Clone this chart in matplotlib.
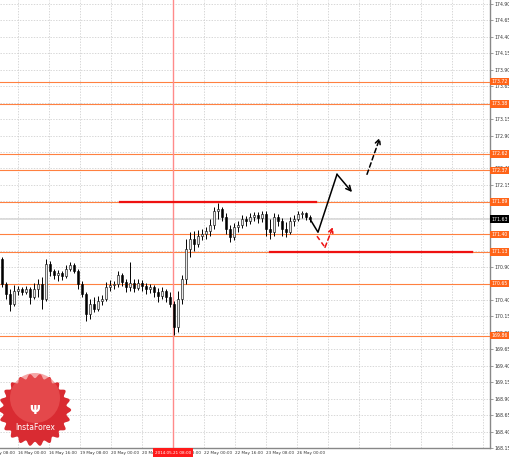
import matplotlib
matplotlib.use("Agg")
import matplotlib.pyplot as plt
import matplotlib.transforms as mtransforms
from matplotlib.patches import Polygon, Circle
import numpy as np

# GBP/JPY-like H1 bars
opens = [171.02, 170.64, 170.49, 170.34, 170.54, 170.57, 170.52, 170.57, 170.45, 170.57,
         170.64, 170.42, 170.95, 170.84, 170.78, 170.81, 170.77, 170.87, 170.93, 170.84,
         170.64, 170.49, 170.19, 170.34, 170.26, 170.39, 170.42, 170.60, 170.63, 170.64,
         170.78, 170.68, 170.60, 170.66, 170.58, 170.66, 170.61, 170.57, 170.60, 170.52,
         170.46, 170.54, 170.45, 170.34, 169.99, 170.42, 170.72, 171.17, 171.32, 171.25,
         171.38, 171.40, 171.45, 171.54, 171.75, 171.78, 171.66, 171.48, 171.35, 171.51,
         171.54, 171.63, 171.60, 171.66, 171.69, 171.64, 171.70, 171.48, 171.43, 171.66,
         171.60, 171.48, 171.43, 171.60, 171.63, 171.70, 171.72, 171.66]
highs = [171.05, 170.68, 170.57, 170.63, 170.61, 170.60, 170.61, 170.60, 170.66, 170.72,
         170.75, 171.02, 170.99, 170.87, 170.86, 170.84, 170.93, 170.98, 170.96, 170.87,
         170.69, 170.52, 170.42, 170.45, 170.46, 170.48, 170.68, 170.71, 170.69, 170.84,
         170.81, 170.72, 170.98, 170.72, 170.72, 170.71, 170.66, 170.64, 170.63, 170.58,
         170.60, 170.57, 170.52, 170.39, 170.54, 170.78, 171.32, 171.43, 171.45, 171.46,
         171.48, 171.51, 171.63, 171.81, 171.88, 171.82, 171.72, 171.54, 171.57, 171.60,
         171.69, 171.67, 171.72, 171.73, 171.73, 171.76, 171.75, 171.63, 171.72, 171.70,
         171.64, 171.58, 171.66, 171.69, 171.75, 171.76, 171.73, 171.69]
lows = [170.60, 170.42, 170.23, 170.31, 170.48, 170.48, 170.49, 170.34, 170.42, 170.45,
        170.26, 170.39, 170.77, 170.72, 170.69, 170.71, 170.74, 170.84, 170.81, 170.57,
        170.45, 170.08, 170.11, 170.22, 170.23, 170.33, 170.39, 170.54, 170.57, 170.60,
        170.61, 170.52, 170.54, 170.52, 170.55, 170.54, 170.49, 170.51, 170.45, 170.37,
        170.42, 170.37, 170.30, 169.87, 169.92, 170.34, 170.64, 171.05, 171.14, 171.20,
        171.31, 171.32, 171.38, 171.48, 171.63, 171.60, 171.40, 171.28, 171.31, 171.43,
        171.49, 171.52, 171.55, 171.60, 171.57, 171.58, 171.38, 171.32, 171.38, 171.52,
        171.37, 171.35, 171.40, 171.52, 171.60, 171.64, 171.61, 171.58]
closes = [170.64, 170.49, 170.34, 170.54, 170.57, 170.52, 170.57, 170.45, 170.57, 170.64,
          170.42, 170.95, 170.84, 170.78, 170.81, 170.77, 170.87, 170.93, 170.84, 170.64,
          170.49, 170.19, 170.34, 170.26, 170.39, 170.42, 170.60, 170.63, 170.64, 170.78,
          170.68, 170.60, 170.66, 170.58, 170.66, 170.61, 170.57, 170.60, 170.52, 170.46,
          170.54, 170.45, 170.34, 169.99, 170.42, 170.72, 171.17, 171.32, 171.25, 171.38,
          171.40, 171.45, 171.54, 171.75, 171.78, 171.66, 171.48, 171.35, 171.51, 171.54,
          171.63, 171.60, 171.66, 171.69, 171.64, 171.70, 171.48, 171.43, 171.66, 171.60,
          171.48, 171.43, 171.60, 171.63, 171.70, 171.72, 171.66, 171.63]

# horizontal levels (orange) and the two red zone lines
levels = [173.72, 173.38, 172.62, 172.37, 171.89, 171.40, 171.13, 170.65, 169.86]
red_upper = (29.5, 78.5, 171.89)
red_lower = (67.0, 117.5, 171.13)

# forecast path drawn on the chart
path_x = [77, 79, 83.75, 87.5]
path_y = [171.63, 171.43, 172.31, 172.04]
dash_x = [91.25, 94.5]
dash_y = [172.31, 172.87]
alt_x = [78.75, 80.75, 82.75]
alt_y = [171.37, 171.20, 171.51]

# time axis
date_pos = [-3.75, 4.0, 11.75, 19.5, 27.25, 35.0, 42.75, 50.5, 58.25, 66.0, 73.75]
date_labels = ["15 May 08:00", "16 May 00:00", "16 May 16:00", "19 May 08:00",
               "20 May 00:00", "20 May 16:00", "21 May 08:00", "22 May 00:00",
               "22 May 16:00", "23 May 08:00", "26 May 00:00"]
grid_x = [4.0 + 7.75 * k for k in range(16)]
marker_x = 42.75
marker_label = "2014.05.21 08:00"

fs = 3.3
fs_date = 3.0

fig = plt.figure(figsize=(5.1, 4.57), dpi=100)
ax = fig.add_axes([0, 9 / 457, 490 / 510, 448 / 457])
ax.set_xlim(-0.5, 122)
ax.set_ylim(168.17, 174.96)

# grid
ax.set_xticks(grid_x)
ax.set_xticklabels([])
ax.tick_params(axis='x', length=0)
ax.set_yticks(np.arange(168.15, 174.91, 0.25))
ax.yaxis.tick_right()
ax.yaxis.set_major_formatter(matplotlib.ticker.FormatStrFormatter('%.2f'))
ax.tick_params(axis='y', labelsize=fs, length=2, width=0.5, color='#777777',
               pad=1.2, labelcolor='#333333')
ax.grid(True, color='#c8c8c8', lw=0.5, linestyle=(0, (2, 2)))
ax.set_axisbelow(True)
for s in ['top', 'left']:
    ax.spines[s].set_visible(False)
for s in ['right', 'bottom']:
    ax.spines[s].set_color('#888888')
    ax.spines[s].set_linewidth(1)

blend = mtransforms.blended_transform_factory(ax.transAxes, ax.transData)
blend_x = mtransforms.blended_transform_factory(ax.transData, ax.transAxes)

# levels
for lv in levels:
    ax.axhline(lv, color='#ff8040', lw=0.8, zorder=2)
    ax.text(1.003, lv, f'{lv:.2f}', transform=blend, fontsize=fs, color='white',
            va='center', ha='left', clip_on=False, zorder=8,
            bbox=dict(facecolor='#ff6418', edgecolor='none', pad=0.8))

# bid line
ax.axhline(closes[-1], color='#d8d8d8', lw=1.2, zorder=1.5)
ax.text(1.003, closes[-1], f'{closes[-1]:.2f}', transform=blend, fontsize=fs,
        color='white', va='center', ha='left', clip_on=False, zorder=8,
        bbox=dict(facecolor='black', edgecolor='none', pad=0.8))

# red vertical marker
ax.axvline(marker_x, color='#ff8a8a', lw=1, zorder=2)

# candles
x = np.arange(len(closes))
o = np.array(opens)
c = np.array(closes)
ax.vlines(x, lows, highs, color='black', lw=0.7, zorder=3)
up = c >= o
ax.bar(x[up], (c - o)[up], bottom=o[up], width=0.6, color='#e8e8e8',
       edgecolor='black', lw=0.4, zorder=4)
ax.bar(x[~up], (o - c)[~up], bottom=c[~up], width=0.6, color='black',
       edgecolor='black', lw=0.4, zorder=4)

# red zone lines
ax.plot(red_upper[:2], [red_upper[2]] * 2, color='#ee1111', lw=1.6, zorder=5)
ax.plot(red_lower[:2], [red_lower[2]] * 2, color='#ee1111', lw=1.6, zorder=5)

# forecast arrows
ax.plot(path_x[:-1], path_y[:-1], color='black', lw=1.1, zorder=6)
ax.annotate('', xy=(path_x[-1], path_y[-1]), xytext=(path_x[-2], path_y[-2]),
            arrowprops=dict(arrowstyle='->', color='black', lw=1.1,
                            shrinkA=0, shrinkB=0, mutation_scale=9), zorder=6)
ax.annotate('', xy=(dash_x[1], dash_y[1]), xytext=(dash_x[0], dash_y[0]),
            arrowprops=dict(arrowstyle='->', color='black', lw=1.1, ls=(0, (3, 2)),
                            shrinkA=0, shrinkB=0, mutation_scale=9), zorder=6)
ax.plot(alt_x[:-1], alt_y[:-1], color='#ee1111', lw=1.1, ls=(0, (3, 2)), zorder=6)
ax.annotate('', xy=(alt_x[-1], alt_y[-1]), xytext=(alt_x[-2], alt_y[-2]),
            arrowprops=dict(arrowstyle='->', color='#ee1111', lw=1.1, ls=(0, (3, 2)),
                            shrinkA=0, shrinkB=0, mutation_scale=8), zorder=6)

# date labels
for p, lab in zip(date_pos, date_labels):
    ax.text(p, -0.006, lab, transform=blend_x, fontsize=fs_date, color='#333333',
            ha='left', va='top', clip_on=False)
ax.text(marker_x, -0.006, marker_label, transform=blend_x, fontsize=fs_date,
        color='white', ha='center', va='top', clip_on=False, zorder=10,
        bbox=dict(facecolor='#ff1a1a', edgecolor='none', pad=1.6))

# logo overlay in pixel coordinates
lg = fig.add_axes([0, 0, 1, 1], zorder=20)
lg.set_xlim(0, 510)
lg.set_ylim(457, 0)
lg.axis('off')
t = np.linspace(0, 2 * np.pi, 241)
r = 34 + 2.2 * np.cos(22 * t)
lg.add_patch(Polygon(np.c_[35 + r * np.cos(t), 410 + r * np.sin(t)],
                     closed=True, facecolor='#d92b32', edgecolor='none'))
lg.add_patch(Circle((35, 398), 25, facecolor='#ee6060', edgecolor='none', alpha=0.55))
lg.text(35, 410, '\u03a8', color='white', fontsize=9, ha='center', va='center',
        fontweight='bold')
lg.text(35, 428, 'InstaForex', color='white', fontsize=5.5, ha='center', va='center')

fig.savefig('out.png', dpi=100)
